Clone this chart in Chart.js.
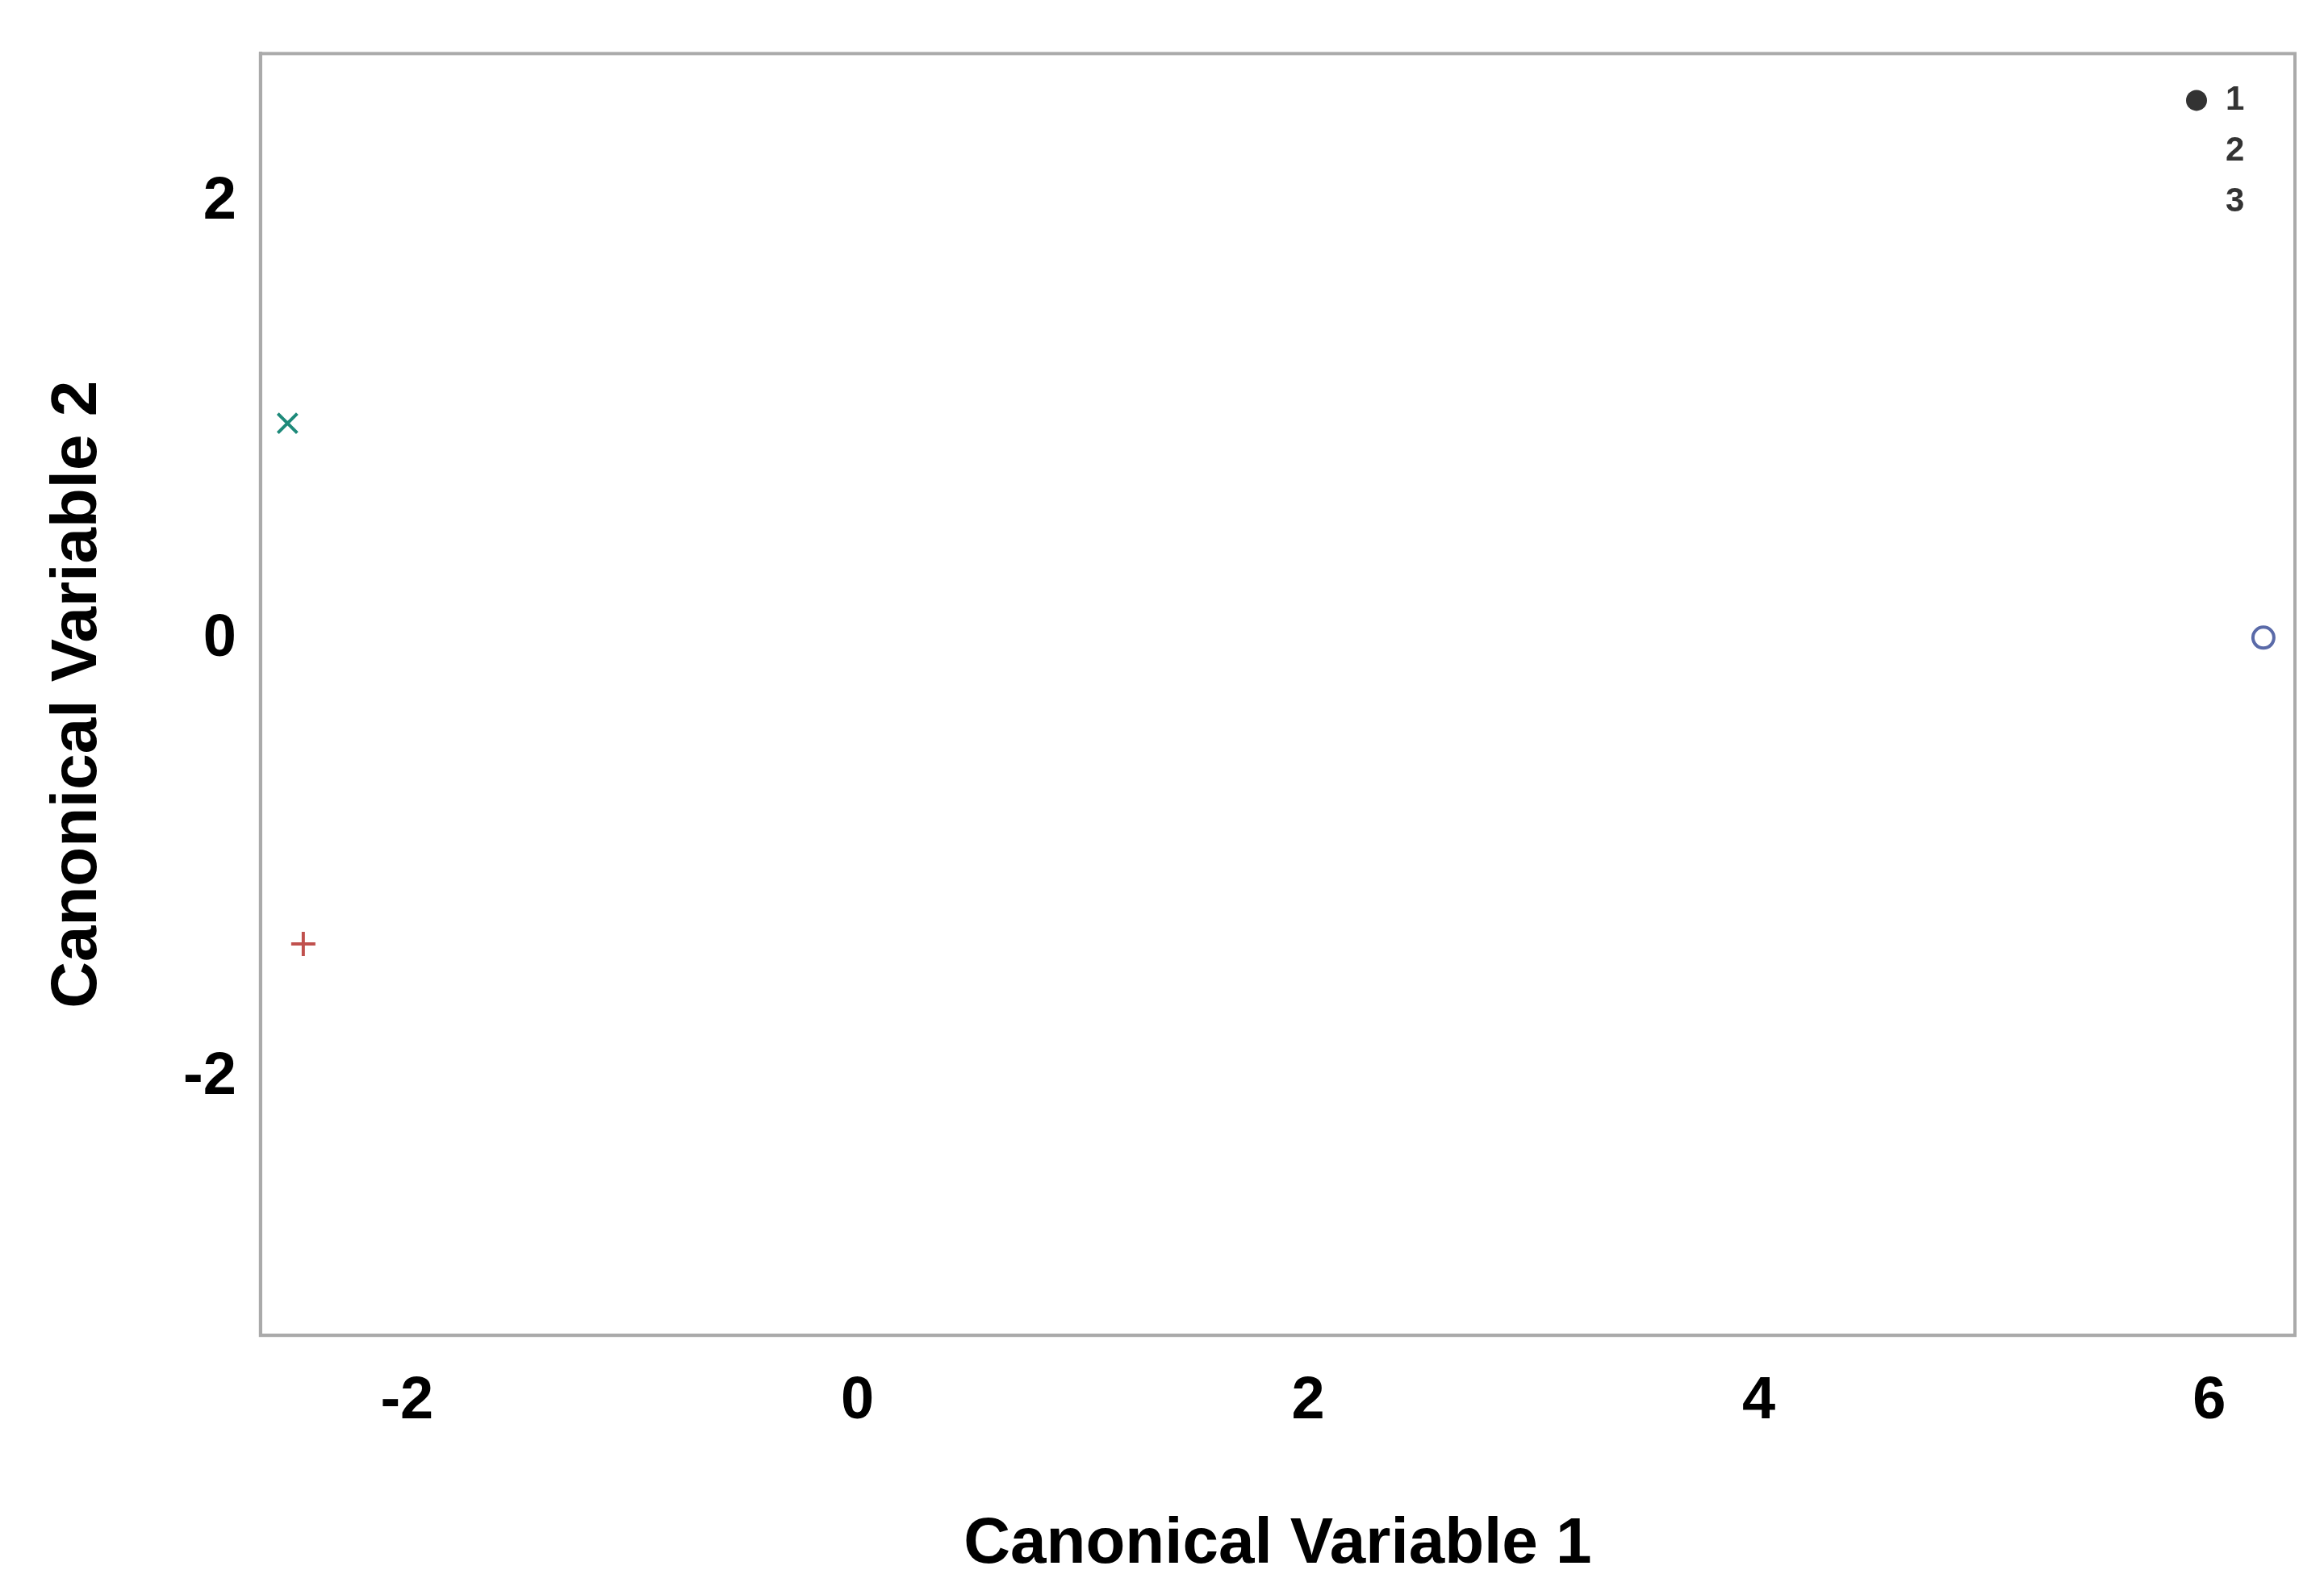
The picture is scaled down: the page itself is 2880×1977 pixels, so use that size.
<!DOCTYPE html>
<html>
<head>
<meta charset="utf-8">
<script src="https://cdn.jsdelivr.net/npm/chart.js@4/dist/chart.umd.min.js"></script>
<style>
  html, body { margin: 0; padding: 0; background: #fff; }
  #wrap { width: 2880px; height: 1977px; }
</style>
</head>
<body>
<div id="wrap"><canvas id="plot"></canvas></div>
<script>
// canonical scores per group
var groupLabels = ['1', '2', '3']
var canX = [6.24, -2.46, -2.53]
var canY = [0.01, -1.39, 0.99]
var groupColors = ['#5a6aa8', '#c0504d', '#1e8a7a']
var groupShapes = ['circle', 'cross', 'crossRot']
var groupRadius = [13, 15, 17]

var xTicks = [-2, 0, 2, 4, 6]
var yTicks = [-2, 0, 2]

var datasets = groupLabels.map(function (g, i) {
  return {
    label: g,
    data: [{ x: canX[i], y: canY[i] }],
    pointStyle: groupShapes[i],
    borderColor: groupColors[i],
    backgroundColor: 'rgba(0,0,0,0)',
    pointRadius: groupRadius[i],
    pointBorderWidth: 4,
  }
})

var fontFam = 'Arial, "Liberation Sans", sans-serif'
var tickFont = { family: fontFam, size: 74, weight: 'bold' }
var titleFont = { family: fontFam, size: 80, weight: 'bold' }

new Chart(document.getElementById('plot'), {
  type: 'scatter',
  data: { datasets: datasets },
  options: {
    responsive: true,
    maintainAspectRatio: false,
    animation: false,
    layout: { padding: { top: 20, right: 36, left: 45, bottom: 10 } },
    scales: {
      x: {
        min: -2.65,
        max: 6.38,
        afterBuildTicks: function (axis) {
          axis.ticks = xTicks.map(function (v) { return { value: v } })
        },
        grid: { display: false },
        border: { display: true, color: '#aaa', width: 4 },
        ticks: { font: tickFont, color: '#000', padding: 30 },
        title: { display: true, text: 'Canonical Variable 1', font: titleFont, color: '#000', padding: { top: 55 } },
      },
      y: {
        min: -3.18,
        max: 2.68,
        afterBuildTicks: function (axis) {
          axis.ticks = yTicks.map(function (v) { return { value: v } })
        },
        grid: { display: false },
        border: { display: true, color: '#aaa', width: 4 },
        ticks: { font: tickFont, color: '#000', padding: 22 },
        title: { display: true, text: 'Canonical Variable 2', font: titleFont, color: '#000', padding: { bottom: 60 } },
      },
    },
    plugins: {
      legend: { display: false },
      tooltip: { enabled: false },
    },
  },
  plugins: [{
    id: 'frameAndLegend',
    afterDraw: function (chart) {
      var a = chart.chartArea, c = chart.ctx
      c.save()
      c.strokeStyle = '#aaa'
      c.lineWidth = 4
      c.strokeRect(a.left, a.top, a.right - a.left, a.bottom - a.top)
      // legend inside top-right corner
      c.font = 'bold 42px ' + fontFam
      c.fillStyle = '#333'
      c.textBaseline = 'middle'
      groupLabels.forEach(function (g, i) {
        var y = a.top + 58 + i * 63
        var x = a.right - 122
        c.strokeStyle = groupColors[i]
        c.lineWidth = 4
        Chart.helpers.drawPoint(c, { pointStyle: groupShapes[i], radius: 13, rotation: 0 }, x, y)
        c.fillText(g, x + 36, y)
      })
      c.restore()
    },
  }],
})
</script>
</body>
</html>
